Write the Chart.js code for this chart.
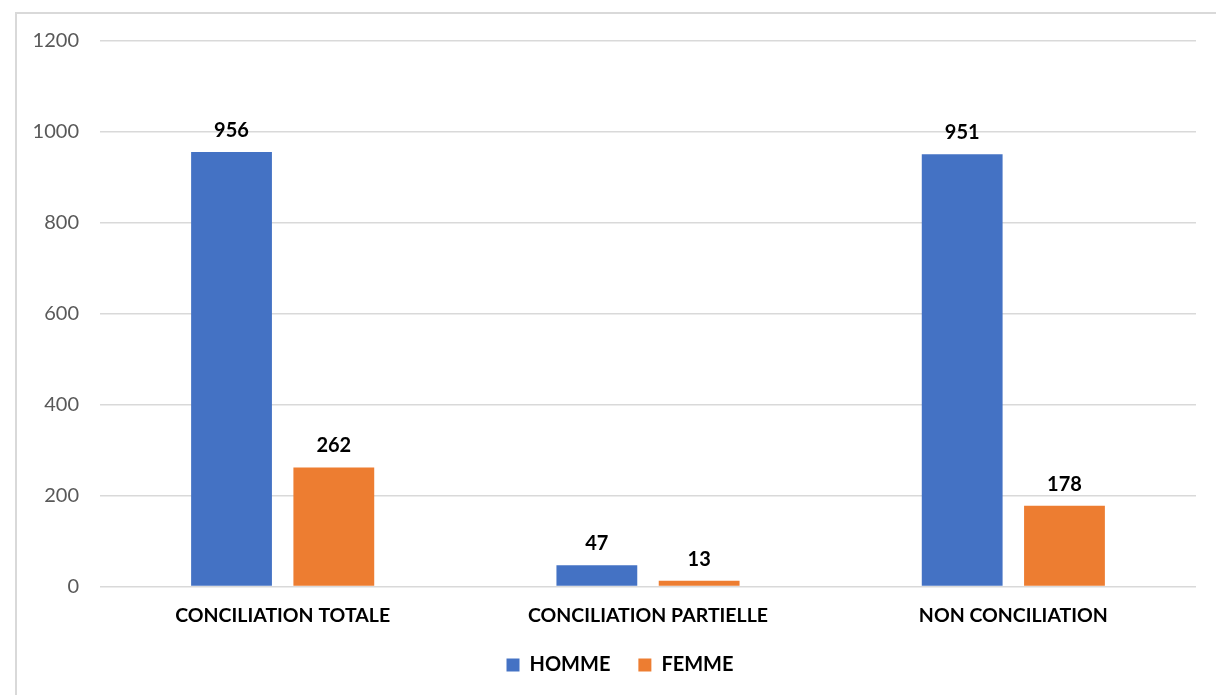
<!DOCTYPE html>
<html>
<head>
<meta charset="utf-8">
<script src="https://cdn.jsdelivr.net/npm/chart.js@4/dist/chart.umd.min.js"></script>
<style>
  html, body { margin: 0; padding: 0; background: #fff; overflow: hidden; }
  #wrap { position: relative; width: 1216px; height: 695px; }
  #frame { position: absolute; left: 15px; top: 12px; width: 1300px; height: 800px; border: 2px solid #d9d9d9; box-sizing: border-box; }
  #c { position: absolute; left: 0; top: 0; }
</style>
</head>
<body>
<div id="wrap">
  <div id="frame"></div>
  <canvas id="c" width="1216" height="695"></canvas>
</div>
<script>
const categories = ["CONCILIATION TOTALE", "CONCILIATION PARTIELLE", "NON CONCILIATION"];
const hommeValues = [956, 47, 951];
const femmeValues = [262, 13, 178];
const seriesNames = ["HOMME", "FEMME"];
const yTicks = [0, 200, 400, 600, 800, 1000, 1200];

const FONT = "Lato, 'Liberation Sans', sans-serif";

const dataLabels = {
  id: 'dataLabels',
  afterDatasetsDraw(chart) {
    const ctx = chart.ctx;
    ctx.save();
    ctx.font = "bold 20px " + FONT;
    ctx.fillStyle = "#000";
    ctx.textAlign = "center";
    ctx.textBaseline = "alphabetic";
    chart.data.datasets.forEach((ds, i) => {
      const meta = chart.getDatasetMeta(i);
      meta.data.forEach((bar, j) => {
        ctx.fillText(String(ds.data[j]), bar.x, bar.y - 15);
      });
    });
    ctx.restore();
  }
};

const legendShift = {
  id: 'legendShift',
  afterLayout(chart) {
    const l = chart.legend;
    if (l) { l.left += 22; l.right += 22; }
  }
};

new Chart(document.getElementById('c'), {
  type: 'bar',
  data: {
    labels: categories,
    datasets: [
      { label: seriesNames[0], data: hommeValues, backgroundColor: '#4472C4', categoryPercentage: 0.56, barPercentage: 0.79 },
      { label: seriesNames[1], data: femmeValues, backgroundColor: '#ED7D31', categoryPercentage: 0.56, barPercentage: 0.79 }
    ]
  },
  options: {
    responsive: false,
    animation: false,
    devicePixelRatio: 1,
    layout: { padding: { top: 41, right: 20, bottom: 10, left: 0 } },
    plugins: {
      legend: {
        position: 'bottom',
        labels: {
          boxWidth: 13, boxHeight: 13, padding: 28,
          color: '#000',
          font: { family: FONT, size: 20, weight: 'bold' }
        }
      },
      tooltip: { enabled: false }
    },
    scales: {
      x: {
        grid: { display: false, drawTicks: false },
        border: { display: false },
        afterFit: (s) => { s.height = s.height - 17; },
        ticks: { color: '#000', padding: 17, font: { family: FONT, size: 19.5, weight: 'bold' } }
      },
      y: {
        min: 0, max: 1200,
        afterBuildTicks: (s) => { s.ticks = yTicks.map(v => ({ value: v })); },
        afterFit: (s) => { s.width = 100; },
        grid: { color: '#d9d9d9', lineWidth: 1.5, drawTicks: false },
        border: { display: false },
        ticks: { color: '#595959', padding: 21, font: { family: FONT, size: 20 }, callback: (v) => String(v) }
      }
    }
  },
  plugins: [dataLabels, legendShift]
});
</script>
</body>
</html>
